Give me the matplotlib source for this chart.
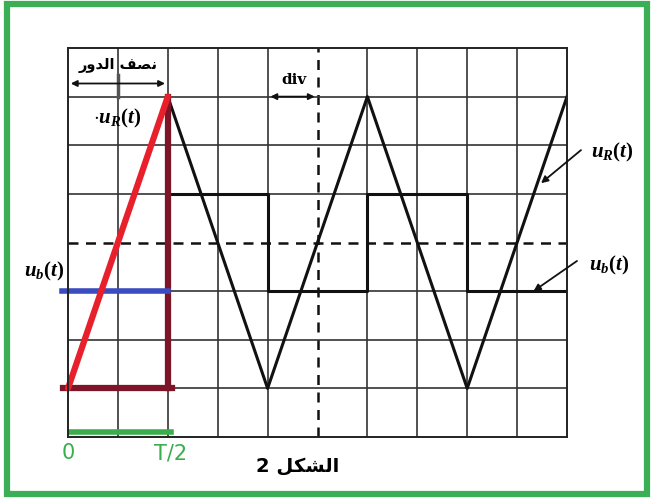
import matplotlib.pyplot as plt
from matplotlib.patches import Rectangle

plt.rcParams['mathtext.fontset'] = 'custom'
plt.rcParams['mathtext.it'] = 'Liberation Serif:italic:bold'
plt.rcParams['mathtext.rm'] = 'Liberation Serif:bold'

# oscilloscope screen: 10 x 8 divisions
n_x = 10
n_y = 8

# triangle u_R(t) and square u_b(t), in divisions
tri_t = [0, 2, 4, 6, 8, 10]
tri_v = [1, 7, 1, 7, 1, 7]
sq_t = [0, 2, 4, 6, 8, 10]
sq_v = [3, 5, 3, 5, 3, 3]

# coloured marks added on the first half period
ramp_t = [0, 2]
ramp_v = [1, 7]
ub_level = 3
low_level = 1
half_T = 2

title_txt = '2 \ufede\ufedc\ufeb8\ufedf\ufe8d'         # الشكل 2
half_txt = '\ufead\ufeed\ufeaa\ufedf\ufe8d \ufed2\ufebc\ufee7'  # نصف الدور

fig = plt.figure(figsize=(6.53, 4.99), dpi=100)
W, H = 653, 499
ax = fig.add_axes([68 / W, 62 / H, 499 / W, 389 / H])
ax.set_xlim(0, n_x)
ax.set_ylim(0, n_y)
ax.set_xticks([])
ax.set_yticks([])
for s in ax.spines.values():
    s.set_linewidth(1.4)
    s.set_color('#222222')

# grid
for i in range(1, n_x):
    if i == n_x // 2:
        ax.axvline(i, color='#111111', lw=1.8, ls=(0, (4, 3)))
    else:
        ax.axvline(i, color='#333333', lw=1.2)
for j in range(1, n_y):
    if j == n_y // 2:
        ax.axhline(j, color='#111111', lw=1.8, ls=(0, (4, 3)))
    else:
        ax.axhline(j, color='#333333', lw=1.2)

# traces
ax.plot(tri_t, tri_v, color='#111111', lw=2.2)
ax.step(sq_t, sq_v, where='post', color='#111111', lw=2.2)

# coloured overlays
ax.plot([ramp_t[0] - 0.1, half_T + 0.08], [low_level, low_level], color='#7e1428', lw=4.5, clip_on=False)
ax.plot([half_T, half_T], [low_level, ramp_v[1]], color='#7e1428', lw=4.5)
ax.plot([ramp_t[0] - 0.12, half_T], [ub_level, ub_level], color='#3b4cc0', lw=4, clip_on=False)
ax.plot(ramp_t, ramp_v, color='#e8202c', lw=4.5, solid_capstyle='round', clip_on=False)
ax.plot([0, half_T + 0.06], [0.1, 0.1], color='#3aae4c', lw=4)

ax.text(0, -0.33, '0', color='#3aae4c', fontsize=15, ha='center', va='center')
ax.text(half_T + 0.05, -0.33, 'T/2', color='#3aae4c', fontsize=15, ha='center', va='center')

# half period arrow
ax.annotate('', xy=(0, 7.27), xytext=(half_T, 7.27),
            arrowprops=dict(arrowstyle='<|-|>', color='#111111', lw=1.3, mutation_scale=9))
ax.plot([1, 1], [7.0, 7.45], color='#555555', lw=2.5)
ax.text(1, 7.63, half_txt, fontsize=10.5, fontweight='bold', ha='center', va='center',
        family='DejaVu Sans')

# div arrow
ax.annotate('', xy=(4, 7.0), xytext=(5, 7.0),
            arrowprops=dict(arrowstyle='<|-|>', color='#111111', lw=1.3, mutation_scale=9))
ax.text(4.53, 7.35, 'div', fontsize=11, fontweight='bold', ha='center', va='center',
        family='DejaVu Serif')

# labels
ax.text(0.98, 6.55, r'$\cdot u_R(t)$', fontsize=15, ha='center', va='center')
ax.text(-0.48, 3.40, r'$u_b(t)$', fontsize=15, ha='center', va='center')
ax.text(10.9, 5.85, r'$u_R(t)$', fontsize=15, ha='center', va='center')
ax.text(10.85, 3.52, r'$u_b(t)$', fontsize=15, ha='center', va='center')
ax.annotate('', xy=(9.48, 5.22), xytext=(10.28, 5.9), annotation_clip=False,
            arrowprops=dict(arrowstyle='-|>', color='#111111', lw=1.3, mutation_scale=10,
                            shrinkA=0, shrinkB=0))
ax.annotate('', xy=(9.33, 3.0), xytext=(10.2, 3.62), annotation_clip=False,
            arrowprops=dict(arrowstyle='-|>', color='#111111', lw=1.3, mutation_scale=10,
                            shrinkA=0, shrinkB=0))

ax.text(4.6, -0.6, title_txt, fontsize=14, fontweight='bold', ha='center', va='center',
        family='DejaVu Sans')

# green frame
fig.patches.append(Rectangle((7 / W, 5 / H), 640 / W, 490 / H, transform=fig.transFigure,
                             fill=False, edgecolor='#3cae55', lw=4.5))

fig.savefig('out.png', dpi=100, facecolor='white')
